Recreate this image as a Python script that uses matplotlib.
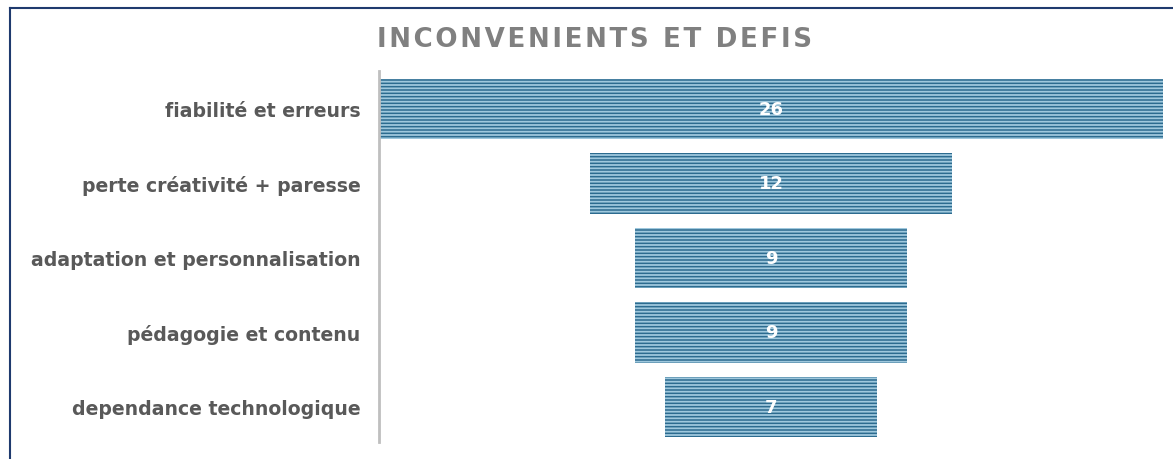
import matplotlib
matplotlib.use("Agg")
import matplotlib.pyplot as plt
from matplotlib.lines import Line2D

categories = [
    "fiabilité et erreurs",
    "perte créativité + paresse",
    "adaptation et personnalisation",
    "pédagogie et contenu",
    "dependance technologique",
]
values = [26, 12, 9, 9, 7]
title = "INCONVENIENTS ET DEFIS"

plt.rcParams["hatch.linewidth"] = 1.3

fig = plt.figure(figsize=(11.73, 4.6), dpi=100)
ax = fig.add_axes([379 / 1173, 1 - 443 / 460, 784 / 1173, 371 / 460])

vmax = max(values)
y = list(range(len(values)))
lefts = [(vmax - v) / 2 for v in values]
ax.barh(y, values, left=lefts, height=0.81, color="#2c6b8f",
        edgecolor="#9fc8dd", linewidth=0, hatch="-----")

for yi, v in zip(y, values):
    ax.text(vmax / 2, yi, str(v), ha="center", va="center", color="white",
            fontsize=13, fontweight="bold")

ax.set_xlim(0, vmax)
ax.set_ylim(4.47, -0.51)
ax.set_xticks([])
ax.set_yticks(y)
ax.set_yticklabels(categories, fontsize=13.6, fontweight="bold", color="#595959")
ax.tick_params(axis="y", length=0, pad=13.5)
for s in ["top", "right", "bottom"]:
    ax.spines[s].set_visible(False)
ax.spines["left"].set_color("#bfbfbf")
ax.spines["left"].set_linewidth(2)

# titre espacé (espaces fines entre les lettres)
spaced_title = "\u200a".join(title)
fig.text(0.507, 0.912, spaced_title, ha="center", va="center", fontsize=18.8,
         fontweight="bold", color="#808080")

# cadre bleu foncé en haut et à gauche
fig.add_artist(Line2D([10 / 1173, 1], [1 - 9 / 460] * 2, color="#1f3a6e", lw=1.5))
fig.add_artist(Line2D([10 / 1173] * 2, [0, 1 - 9 / 460], color="#1f3a6e", lw=1.5))

fig.savefig("out.png", dpi=100)
